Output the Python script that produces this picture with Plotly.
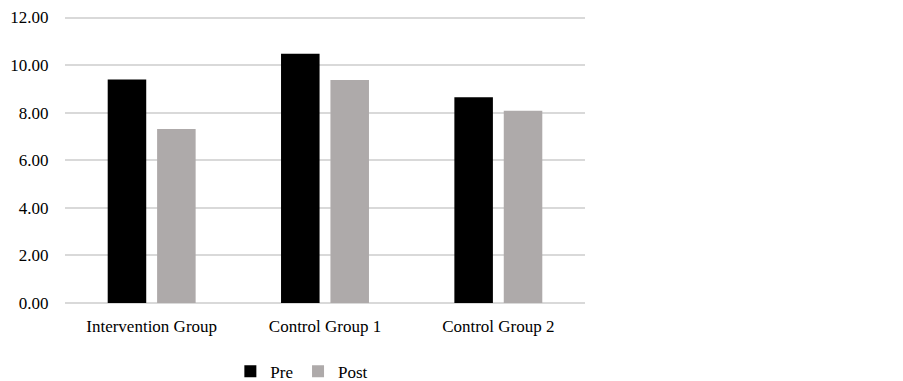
import plotly.graph_objects as go

categories = ["Intervention Group", "Control Group 1", "Control Group 2"]
pre_values = [9.39, 10.48, 8.65]
post_values = [7.31, 9.37, 8.08]
y_ticks = [0, 2, 4, 6, 8, 10, 12]
y_tick_labels = ["0.00", "2.00", "4.00", "6.00", "8.00", "10.00", "12.00"]

font_family = "Liberation Serif, Times New Roman, serif"

fig = go.Figure()
fig.add_trace(go.Bar(name="Pre", x=categories, y=pre_values,
                     marker=dict(color="#000000", line=dict(width=0))))
fig.add_trace(go.Bar(name="Post", x=categories, y=post_values,
                     marker=dict(color="#aeaaaa", line=dict(width=0))))

fig.update_layout(
    width=903, height=390,
    margin=dict(l=57, r=326, t=0, b=94.5),
    paper_bgcolor="white", plot_bgcolor="white",
    barmode="group", bargap=0.43, bargroupgap=0.22,
    font=dict(family=font_family, size=17, color="#000000"),
    showlegend=True,
    legend=dict(orientation="h", x=0.318, xanchor="left", y=-0.233, yanchor="middle",
                font=dict(size=17), itemwidth=30,
                bgcolor="rgba(0,0,0,0)"),
    xaxis=dict(showgrid=False, showline=False, ticks="outside", ticklen=8,
               tickcolor="rgba(0,0,0,0)", tickfont=dict(size=17), automargin=False),
    yaxis=dict(range=[0, 12.4], tickvals=y_ticks, ticktext=y_tick_labels,
               showgrid=True, gridcolor="#d9d9d9", gridwidth=1.5,
               zeroline=True, zerolinecolor="#d9d9d9", zerolinewidth=1.5,
               showline=False, ticks="outside", ticklen=12,
               ticklabeloverflow="allow",
               tickcolor="rgba(0,0,0,0)", tickfont=dict(size=17), automargin=False),
)

fig.write_html("out.html")
